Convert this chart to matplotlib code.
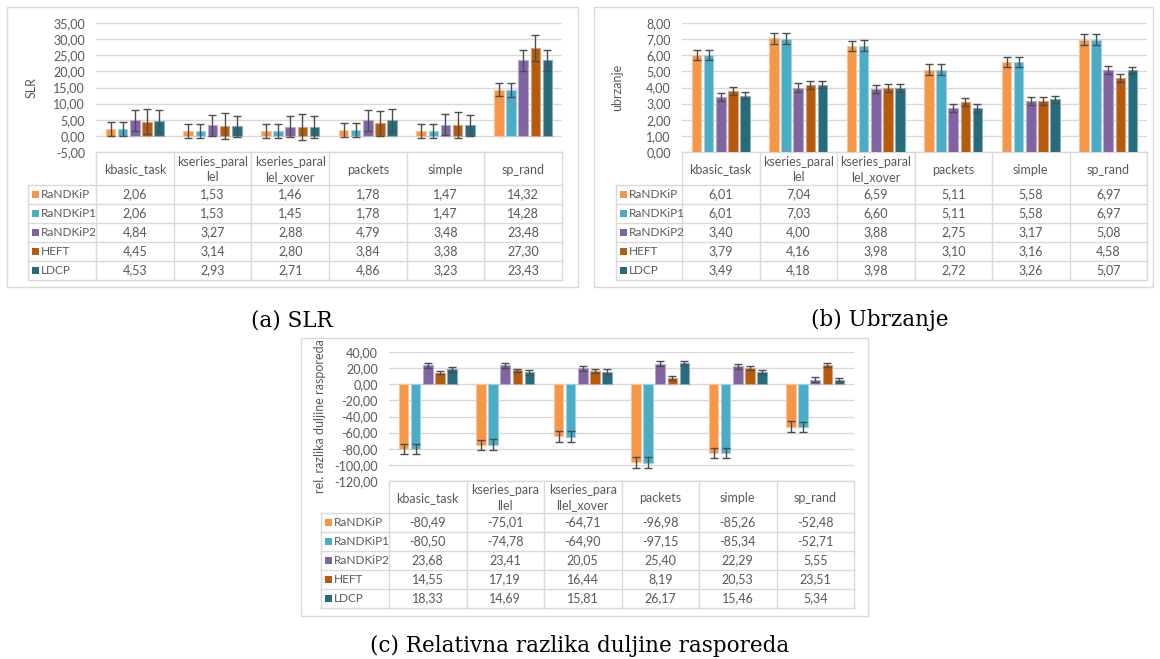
import matplotlib
matplotlib.use('Agg')
import matplotlib.pyplot as plt
from matplotlib.patches import Rectangle
import numpy as np

W, H = 1160, 659

# ---------------- data ----------------
series = ['RaNDKiP', 'RaNDKiP1', 'RaNDKiP2', 'HEFT', 'LDCP']
colors = ['#F79646', '#4BACC6', '#8064A2', '#B65A0C', '#266B7B']
header_ab = ['kbasic_task', 'kseries_paral\nlel', 'kseries_paral\nlel_xover', 'packets', 'simple', 'sp_rand']
header_c = ['kbasic_task', 'kseries_para\nllel', 'kseries_para\nllel_xover', 'packets', 'simple', 'sp_rand']

slr_randkip = [2.06, 1.53, 1.46, 1.78, 1.47, 14.32]
slr_randkip1 = [2.06, 1.53, 1.45, 1.78, 1.47, 14.28]
slr_randkip2 = [4.84, 3.27, 2.88, 4.79, 3.48, 23.48]
slr_heft = [4.45, 3.14, 2.80, 3.84, 3.38, 27.30]
slr_ldcp = [4.53, 2.93, 2.71, 4.86, 3.23, 23.43]
slr_err = [2.1, 2.1, 3.3, 4.0, 3.35]

spd_randkip = [6.01, 7.04, 6.59, 5.11, 5.58, 6.97]
spd_randkip1 = [6.01, 7.03, 6.60, 5.11, 5.58, 6.97]
spd_randkip2 = [3.40, 4.00, 3.88, 2.75, 3.17, 5.08]
spd_heft = [3.79, 4.16, 3.98, 3.10, 3.16, 4.58]
spd_ldcp = [3.49, 4.18, 3.98, 2.72, 3.26, 5.07]
spd_err = [0.32, 0.32, 0.25, 0.23, 0.23]

rel_randkip = [-80.49, -75.01, -64.71, -96.98, -85.26, -52.48]
rel_randkip1 = [-80.50, -74.78, -64.90, -97.15, -85.34, -52.71]
rel_randkip2 = [23.68, 23.41, 20.05, 25.40, 22.29, 5.55]
rel_heft = [14.55, 17.19, 16.44, 8.19, 20.53, 23.51]
rel_ldcp = [18.33, 14.69, 15.81, 26.17, 15.46, 5.34]
rel_err = [6.4, 6.4, 3.0, 2.3, 2.8]

slr_ticks = [-5, 0, 5, 10, 15, 20, 25, 30, 35]
spd_ticks = [0, 1, 2, 3, 4, 5, 6, 7, 8]
rel_ticks = [-120, -100, -80, -60, -40, -20, 0, 20, 40]

# ---------------- style ----------------
FONT = 'Lato'
TXT = '#595959'
GRID = '#D9D9D9'
FS = 9
plt.rcParams['font.family'] = FONT

fig = plt.figure(figsize=(W / 100, H / 100), dpi=100)
ov = fig.add_axes([0, 0, 1, 1])
ov.set_xlim(0, W)
ov.set_ylim(H, 0)
ov.axis('off')


def fmt(v):
    return f"{v:.2f}".replace('.', ',')


def lighten(c, f=0.45):
    c = np.array(matplotlib.colors.to_rgb(c))
    return tuple(c + (1 - c) * f)


def panel(box, x0, x1, ytop, ybot, ticks, ylabel, ylabel_x, data, errs,
          headers, hdr_bot, row_h, leg_x):
    # outer box
    ov.add_patch(Rectangle((box[0], box[1]), box[2] - box[0], box[3] - box[1],
                           fill=False, edgecolor=GRID, lw=1))
    ax = fig.add_axes([x0 / W, 1 - ybot / H, (x1 - x0) / W, (ybot - ytop) / H])
    ax.set_xlim(-0.5, 5.5)
    ax.set_ylim(ticks[0], ticks[-1])
    ax.set_yticks(ticks)
    ax.set_yticklabels([fmt(t) for t in ticks])
    ax.tick_params(axis='y', length=0, pad=8, labelsize=FS, labelcolor=TXT)
    ax.set_xticks([])
    for s in ax.spines.values():
        s.set_visible(False)
    ax.patch.set_alpha(0)
    for t in ticks:
        ax.axhline(t, color=GRID, lw=1, zorder=0)
    slot = 0.156
    bw = 0.123
    x = np.arange(6)
    for i, (vals, col) in enumerate(zip(data, colors)):
        xi = x + (i - 2) * slot
        ax.bar(xi, vals, width=bw, color=col, edgecolor=lighten(col), lw=0.8, zorder=2)
        ax.errorbar(xi, vals, yerr=errs[i], fmt='none', ecolor='#4D4D4D',
                    elinewidth=1, capsize=3, capthick=1, zorder=3)
    ov.text(ylabel_x, (ytop + ybot) / 2, ylabel, rotation=90, ha='center', va='center',
            fontsize=FS, color=TXT)
    # table
    cw = (x1 - x0) / 6
    tb = hdr_bot + 5 * row_h
    for i in range(7):
        ov.plot([x0 + i * cw] * 2, [ybot, tb], color=GRID, lw=1)
    ov.plot([leg_x, leg_x], [hdr_bot, tb], color=GRID, lw=1)
    ov.plot([x0, x1], [ybot, ybot], color=GRID, lw=1)
    for r in range(6):
        yy = hdr_bot + r * row_h
        ov.plot([leg_x, x1], [yy, yy], color=GRID, lw=1)
    for i, h in enumerate(headers):
        ov.text(x0 + (i + 0.5) * cw, (ybot + hdr_bot) / 2 + 1, h, ha='center', va='center',
                fontsize=FS, color=TXT, linespacing=1.3)
    for r, (name, vals, col) in enumerate(zip(series, data, colors)):
        yc = hdr_bot + (r + 0.5) * row_h
        ov.add_patch(Rectangle((leg_x + 4, yc - 3.5), 7, 7, color=col, lw=0))
        ov.text(leg_x + 13, yc, name, ha='left', va='center', fontsize=8.5, color=TXT)
        for i, v in enumerate(vals):
            ov.text(x0 + (i + 0.5) * cw, yc, fmt(v), ha='center', va='center',
                    fontsize=FS, color=TXT)


panel((7, 7, 578, 287), 96, 562, 23, 152, slr_ticks, 'SLR', 32,
      [slr_randkip, slr_randkip1, slr_randkip2, slr_heft, slr_ldcp], slr_err,
      header_ab, 185, 19.0, 28)
panel((594, 7, 1153, 287), 682, 1147, 23, 152, spd_ticks, 'ubrzanje', 617,
      [spd_randkip, spd_randkip1, spd_randkip2, spd_heft, spd_ldcp], spd_err,
      header_ab, 185, 19.0, 616)
panel((301, 338, 868, 616), 389, 854, 352, 481, rel_ticks, 'rel. razlika duljine rasporeda', 320,
      [rel_randkip, rel_randkip1, rel_randkip2, rel_heft, rel_ldcp], rel_err,
      header_c, 513, 19.0, 321)

cap_kw = dict(ha='center', va='center', fontsize=15.5, family='DejaVu Serif', color='black')
ov.text(292, 320, '(a) SLR', **cap_kw)
ov.text(880, 320, '(b) Ubrzanje', **cap_kw)
ov.text(580, 646, '(c) Relativna razlika duljine rasporeda', **cap_kw)

fig.savefig('out.png', dpi=100)
